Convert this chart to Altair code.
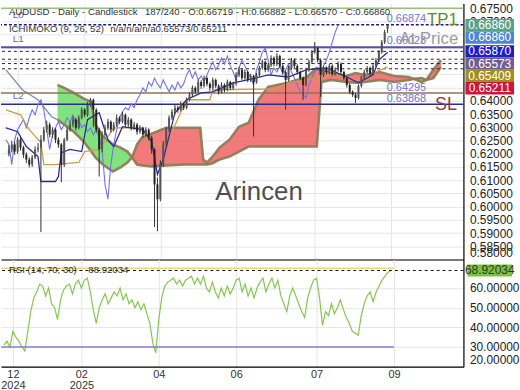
import altair as alt
import pandas as pd

PIP = 10000.0

# ---------------- data (prices in pips) ----------------
closes = [6216,6235,6208,6253,6223,6197,6178,6159,6186,6216,
          6223,6253,6291,6310,6272,6291,6253,6235,6159,6253,
          6291,6310,6329,6298,6336,6366,6347,6385,6404,6366,
          6291,6216,6272,6298,6321,6291,6310,6336,6321,6347,
          6310,6329,6298,6310,6283,6298,6272,6291,6261,6216,
          6084,6028,6159,6235,6291,6336,6359,6374,6366,6389,
          6374,6404,6423,6449,6434,6471,6456,6486,6464,6449,
          6479,6456,6434,6460,6441,6471,6449,6464,6498,6517,
          6486,6509,6479,6494,6471,6498,6524,6547,6517,6535,
          6562,6539,6569,6532,6509,6479,6524,6554,6532,6509,
          6486,6460,6517,6547,6584,6599,6554,6498,6524,6509,
          6532,6502,6517,6539,6509,6486,6460,6434,6423,6411,
          6456,6486,6509,6524,6502,6532,6554,6584,6622,6659,
          6686]
highs = [6232,6248,6244,6262,6266,6230,6205,6186,6195,6228,
         6240,6270,6302,6325,6318,6300,6297,6262,6240,6260,
         6300,6322,6340,6336,6345,6375,6372,6395,6411,6408,
         6372,6298,6285,6310,6332,6326,6320,6348,6342,6358,
         6352,6338,6334,6320,6316,6308,6302,6300,6296,6268,
         6222,6110,6175,6248,6300,6345,6368,6385,6382,6398,
         6394,6412,6432,6458,6455,6480,6478,6495,6492,6470,
         6488,6484,6462,6470,6466,6480,6476,6472,6508,6528,
         6522,6518,6514,6502,6498,6506,6532,6556,6552,6544,
         6572,6568,6580,6574,6538,6515,6532,6562,6560,6538,
         6514,6492,6525,6555,6592,6622,6604,6560,6532,6530,
         6540,6538,6526,6548,6545,6514,6492,6466,6440,6430,
         6462,6494,6518,6532,6530,6540,6562,6592,6630,6668,
         6688]
lows = [6190,6205,6196,6200,6212,6184,6165,6148,6150,6180,
        6205,5904,6245,6280,6262,6260,6240,6222,6092,6150,
        6248,6284,6300,6288,6292,6330,6338,6340,6378,6300,
        6280,6114,6205,6265,6290,6280,6284,6302,6312,6315,
        6300,6302,6288,6290,6272,6276,6262,6265,6250,6200,
        5923,5907,6020,6150,6228,6282,6328,6350,6355,6360,
        6365,6368,6398,6415,6425,6428,6446,6450,6455,6438,
        6442,6448,6424,6428,6432,6436,6440,6442,6458,6490,
        6478,6480,6470,6472,6265,6465,6492,6518,6508,6510,
        6528,6530,6532,6524,6500,6366,6474,6518,6524,6500,
        6478,6404,6455,6510,6540,6578,6545,6415,6490,6500,
        6502,6494,6496,6510,6500,6478,6450,6425,6415,6392,
        6405,6450,6480,6502,6495,6498,6526,6548,6578,6615,
        6657]
first_open = 6200
last_open = 6672

rsi_vals = [31,33,30,38,35,33,30,28,38,48,
            55,58,62,61,56,60,52,50,44,54,
            59,61,62,57,62,64,60,64,65,58,
            49,42,50,54,57,52,55,58,56,60,
            54,57,52,54,50,53,49,52,47,42,
            32,27,44,55,61,63,64,65,62,64,
            61,64,65,66,62,65,62,66,60,58,
            63,58,55,60,56,61,57,60,64,65,
            58,62,56,60,55,60,63,65,58,62,
            65,60,64,56,52,48,56,60,56,52,
            48,45,55,60,64,65,55,41,48,46,
            52,47,50,54,49,45,42,38,37,36,
            46,52,56,58,53,58,61,64,66,68,
            69]
rsi_now = 68.92034

CHIKOU_SHIFT = 17

tenkan_x = [-1,3,6,10,11,16,17,18,21,25,27,31,34,36,39,46,49,51,53,57,
            61,66,70,77,82,89,96,102,109,116,120,125,127,130]
tenkan_v = [6298,6283,6227,6189,6095,6095,6114,6204,6216,6208,6329,6355,6253,6227,6302,6291,6246,6122,6178,6355,
            6404,6430,6434,6468,6479,6498,6490,6517,6524,6490,6468,6498,6554,6584]
kijun_x = [-1,4,7,11,12,16,24,26,31,36,46,48,54,61,69,70,91,97,106,112,119,124,126,130]
kijun_v = [6366,6347,6291,6242,6159,6159,6167,6208,6216,6298,6298,6235,6235,6404,6404,6441,6445,6471,6486,6498,6479,6486,6509,6528]
spanb_pre_x = [-1, 4.7, 10, 14.7, 16.7]
spanb_pre_v = [6517, 6441, 6404, 6340, 6329]

cloud_x = [16.7,19,22.3,25.7,28.3,29.7,32.3,35.7,38.3,40.7,42.3,
           44,45.7,49,54,60.7,65.7,66.7,68,69.7,72.3,75.7,79,82.3,85.7,89,95.7,102.3,105.7,107.3,110.7,
           115.7,119,122.3,127.3,132.3,137.3,139,
           141.7,143.3,145.7,148.3]
cloud_a = [6460,6449,6430,6408,6396,6310,6265,6235,6223,6208,6186,
           6159,6156,6152,6156,6159,6159,6159,6159,6163,6178,6189,6208,6227,6227,6227,6227,6227,6227,6471,6479,
           6471,6468,6471,6479,6471,6479,6483,
           6486,6479,6486,6528]
cloud_b = [6329,6310,6283,6246,6208,6186,6159,6133,6148,6167,6186,
           6235,6261,6276,6298,6298,6298,6178,6167,6186,6223,6253,6302,6317,6404,6453,6468,6490,6524,6517,6505,
           6494,6505,6498,6509,6494,6490,6483,
           6471,6479,6517,6554]

tick_pos = [3, 26, 52, 78, 105, 131]
tick_lab = [["12", "2024"], ["02", "2025"], "04", "06", "07", "09"]

price_ticks = [0.58, 0.585, 0.59, 0.595, 0.60, 0.605, 0.61, 0.615, 0.62, 0.625,
               0.63, 0.635, 0.64, 0.645, 0.65, 0.655, 0.66, 0.665, 0.67, 0.675]
rsi_ticks = [20, 30, 40, 50, 60]

# horizontal levels: price, colour, dash, width
levels = [
    (0.6750, "#9cbb86", [1, 0], 1.5),
    (0.66874, "#1c1c72", [3, 2], 1.6),
    (0.66023, "#5a4fa8", [1, 0], 2.0),
    (0.65870, "#222222", [3, 3], 1.0),
    (0.65573, "#222222", [3, 3], 1.0),
    (0.65409, "#222222", [3, 3], 1.0),
    (0.65211, "#222222", [3, 3], 1.0),
    (0.64295, "#8d7452", [1, 0], 1.6),
    (0.63868, "#2b2b88", [1, 0], 1.6),
]

box_vals = [0.66860, 0.66860, 0.65870, 0.65573, 0.65409, 0.65211]
box_cols = ["#58a385", "#4a88d6", "#1e1ec8", "#6e5e8e", "#a08f1c", "#d0153d"]

# ---------------- geometry ----------------
W, H1, H2 = 466, 258, 108
XDOM = [-1, 154.33]
YDOM = [0.58, 0.6768]
RDOM = [20, 74.5]
PX_PER = H1 / (YDOM[1] - YDOM[0])
FONT = "Liberation Sans"

xs = alt.Scale(domain=XDOM, nice=False, zero=False)
ys = alt.Scale(domain=YDOM, nice=False, zero=False)
rs = alt.Scale(domain=RDOM, nice=False, zero=False)

# ---------------- frames ----------------
n = len(closes)
opens = [first_open] + closes[:-1]
opens[-1] = last_open
cdf = pd.DataFrame({
    "i": list(range(n)),
    "o": [v / PIP for v in opens],
    "h": [v / PIP for v in highs],
    "l": [v / PIP for v in lows],
    "c": [v / PIP for v in closes],
})
cdf["bcol"] = ["#555555" if c >= o else "#222222" for o, c in zip(cdf["o"], cdf["c"])]

chik = pd.DataFrame({"x": [i - CHIKOU_SHIFT for i in range(CHIKOU_SHIFT - 1, n)],
                     "v": [closes[i] / PIP for i in range(CHIKOU_SHIFT - 1, n)]})
ten = pd.DataFrame({"x": tenkan_x, "v": [v / PIP for v in tenkan_v]})
kij = pd.DataFrame({"x": kijun_x, "v": [v / PIP for v in kijun_v]})
sbp = pd.DataFrame({"x": spanb_pre_x, "v": [v / PIP for v in spanb_pre_v]})

CLOUD_UP, CLOUD_DOWN = "#74e070", "#f26c6c"
rows = []
seg = 0
cur = []


def flush(points, seg_id):
    col = CLOUD_UP if any(p[1] > p[2] for p in points) else CLOUD_DOWN
    return [{"x": p[0], "a": p[1] / PIP, "b": p[2] / PIP, "seg": seg_id, "col": col} for p in points]


for k, (x, a, b) in enumerate(zip(cloud_x, cloud_a, cloud_b)):
    cur.append((x, a, b))
    if a == b and len(cur) > 1 and k < len(cloud_x) - 1:
        rows += flush(cur, seg)
        seg += 1
        cur = [(x, a, b)]
if cur:
    rows += flush(cur, seg)
cloud = pd.DataFrame(rows)
cloud_line = pd.DataFrame({"x": cloud_x, "a": [v / PIP for v in cloud_a], "b": [v / PIP for v in cloud_b]})

gap = 12.4 / PX_PER
slots = []
for v in box_vals:
    s = v if not slots else min(v, slots[-1] - gap)
    slots.append(s)
boxes = pd.DataFrame({"v": [f"{b:.5f}" for b in box_vals], "s": slots,
                      "y0": [s - 6.2 / PX_PER for s in slots], "y1": [s + 6.2 / PX_PER for s in slots],
                      "col": box_cols})

# ---------------- axes (same object on every layer) ----------------
XM = alt.Axis(values=tick_pos, labels=False, ticks=False, domain=True, domainColor="#000",
              domainWidth=1.2, grid=True, gridColor="#e6e6e6", title=None)
# labels that sit under the coloured value boxes are left blank (grid lines stay)
YM = alt.Axis(orient="right", values=price_ticks, format=".5f", labelFontSize=12, labelColor="#222",
              labelExpr="(datum.value > 0.642 && datum.value < 0.668) ? '' : datum.label",
              labelFont=FONT, labelFlush=True, labelOverlap=False, ticks=False, labelPadding=6,
              domain=True, domainColor="#000", domainWidth=1.2, grid=True, gridColor="#e6e6e6",
              title=None)


def lab(v):
    if isinstance(v, list):
        return "[" + ",".join(f"'{s}'" for s in v) + "]"
    return f"'{v}'"


expr = "''"
for p, l in reversed(list(zip(tick_pos, tick_lab))):
    expr = f"datum.value == {p} ? {lab(l)} : ({expr})"

XR = alt.Axis(values=tick_pos, labelExpr=expr, labelFontSize=11, labelColor="#333", labelFont=FONT,
              ticks=False, labelPadding=2, labelLineHeight=10.5, domain=True, domainColor="#000",
              domainWidth=1.2, grid=True, gridColor="#e6e6e6", title=None, labelOverlap=False)
YR = alt.Axis(orient="right", values=rsi_ticks, format=".5f", labelFontSize=12, labelColor="#222",
              labelFont=FONT, labelFlush=True, labelOverlap=False, ticks=False, labelPadding=6,
              domain=True, domainColor="#000", domainWidth=1.2, grid=True, gridColor="#e6e6e6",
              title=None)


def mx(f):
    return alt.X(f, scale=xs, axis=XM)


def my(f):
    return alt.Y(f, scale=ys, axis=YM)


# ---------------- main panel ----------------
cloud_area = alt.Chart(cloud).mark_area(opacity=0.9, interpolate="linear").encode(
    x=mx("x:Q"), y=my("a:Q"), y2="b:Q",
    color=alt.Color("col:N", scale=None, legend=None), detail="seg:N")
span_a = alt.Chart(cloud_line).mark_line(color="#8e7c58", strokeWidth=2.6, opacity=0.95).encode(
    x=mx("x:Q"), y=my("a:Q"))
span_b = alt.Chart(cloud_line).mark_line(color="#8e7c58", strokeWidth=2.6, opacity=0.95).encode(
    x=mx("x:Q"), y=my("b:Q"))
spanb_pre = alt.Chart(sbp).mark_line(color="#7b88a6", strokeWidth=1.2).encode(x=mx("x:Q"), y=my("v:Q"))

level_layers = []
for p, col, dash, w in levels:
    level_layers.append(
        alt.Chart(pd.DataFrame({"p": [p]})).mark_rule(color=col, strokeDash=dash, strokeWidth=w).encode(
            y=my("p:Q")))

chikou = alt.Chart(chik).mark_line(color="#7373e2", strokeWidth=1.1, clip=True).encode(x=mx("x:Q"), y=my("v:Q"))
kijun = alt.Chart(kij).mark_line(color="#c9a04c", strokeWidth=1.3, clip=True).encode(x=mx("x:Q"), y=my("v:Q"))
tenkan = alt.Chart(ten).mark_line(color="#2a2a9c", strokeWidth=1.3, clip=True).encode(x=mx("x:Q"), y=my("v:Q"))

wicks = alt.Chart(cdf).mark_rule(color="#303030", strokeWidth=1).encode(x=mx("i:Q"), y=my("l:Q"), y2="h:Q")
bodies = alt.Chart(cdf).mark_bar(size=2).encode(
    x=mx("i:Q"), y=my("o:Q"), y2="c:Q", color=alt.Color("bcol:N", scale=None, legend=None))

ann = [  # text, bar position, price, dy, colour, size
    ("0.66874", 129.7, 0.66874, -6, "#7373d8", 11),
    ("TP1", 143.5, 0.66874, -5, "#5e8c32", 17),
    ("0.66023", 129.7, 0.66023, -6, "#7373d8", 11),
    ("At Price", 134.0, 0.66023, -8, "#9c9c9c", 17),
    ("0.64295", 129.7, 0.64295, -5, "#7373d8", 11),
    ("0.63868", 129.7, 0.63868, -5, "#7373d8", 11),
    ("SL", 146.3, 0.63868, 1, "#963a3a", 18),
    ("L0", 1.3, 0.6750, 7, "#6a6ab2", 10),
    ("L1", 1.3, 0.66023, -8, "#6a6ab2", 10),
    ("L2", 1.3, 0.64295, 3, "#6a6ab2", 10),
]
ann_layers = []
for t, bx, p, dy, col, sz in ann:
    ann_layers.append(
        alt.Chart(pd.DataFrame({"t": [t], "x": [bx], "p": [p]})).mark_text(
            align="left", baseline="middle", dy=dy, color=col, fontSize=sz, font=FONT).encode(
            x=mx("x:Q"), y=my("p:Q"), text="t:N"))

header_txt = [
    ("AUDUSD - Daily - Candlestick", 8, 9, 9.7, "#333333"),
    ("187/240 - O:0.66719 - H:0.66882 - L:0.66570 - C:0.66860", 145, 9, 9.7, "#333333"),
    ("ICHIMOKO (9, 26, 52)", 8, 26, 9.7, "#333333"),
    ("n/a/n/a/n/a0.65573/0.65211", 110, 26, 9.7, "#333333"),
]
head_layers = []
for t, x, y, sz, col in header_txt:
    head_layers.append(
        alt.Chart(pd.DataFrame({"t": [t]})).mark_text(
            align="left", baseline="middle", fontSize=sz, color=col, font=FONT).encode(
            x=alt.value(x), y=alt.value(y), text="t:N"))
watermark = alt.Chart(pd.DataFrame({"t": ["Arincen"]})).mark_text(
    align="center", baseline="middle", fontSize=26, color="#4f4f4f", font=FONT).encode(
    x=alt.value(260), y=alt.value(190), text="t:N")

box_rect = alt.Chart(boxes).mark_rect().encode(
    x=alt.value(468), x2=alt.value(517), y=my("y0:Q"), y2="y1:Q",
    color=alt.Color("col:N", scale=None, legend=None))
box_text = alt.Chart(boxes).mark_text(align="center", baseline="middle", fontSize=12, color="#ffffff",
                                      font=FONT).encode(x=alt.value(492.5), y=my("s:Q"), text="v:N")

main = alt.layer(
    cloud_area, span_a, span_b, spanb_pre, *level_layers, chikou, kijun, tenkan, wicks, bodies,
    *ann_layers, *head_layers, watermark, box_rect, box_text
).properties(width=W, height=H1)


# ---------------- RSI panel ----------------
def rx(f):
    return alt.X(f, scale=xs, axis=XR)


def ry(f):
    return alt.Y(f, scale=rs, axis=YR)


rdf = pd.DataFrame({"i": list(range(len(rsi_vals))), "r": rsi_vals})
rsi_line = alt.Chart(rdf).mark_line(color="#86c64e", strokeWidth=1.2).encode(x=rx("i:Q"), y=ry("r:Q"))
band = pd.DataFrame({"x0": [-1, -1], "x1": [131, 131], "y": [30, 70], "c": ["#8a7ed8", "#e6da7a"]})
rsi_bands = alt.Chart(band).mark_rule(strokeWidth=1.5).encode(
    x=rx("x0:Q"), x2="x1:Q", y=ry("y:Q"), color=alt.Color("c:N", scale=None, legend=None))
rsi_cur = alt.Chart(pd.DataFrame({"y": [rsi_now]})).mark_rule(color="#111", strokeDash=[3, 3]).encode(
    y=ry("y:Q"))
rsi_box = alt.Chart(pd.DataFrame({"y0": [rsi_now - 3.1], "y1": [rsi_now + 3.1]})).mark_rect(
    color="#7cc144").encode(x=alt.value(470), x2=alt.value(515), y=ry("y0:Q"), y2="y1:Q")
rsi_box_t = alt.Chart(pd.DataFrame({"t": [f"{rsi_now:.5f}"], "y": [rsi_now]})).mark_text(
    align="center", baseline="middle", fontSize=12, color="#2a3a1a", font=FONT).encode(
    x=alt.value(492.5), y=ry("y:Q"), text="t:N")
rsi_head = alt.Chart(pd.DataFrame({"t": ["RSI (14; 70; 30)"]})).mark_text(
    align="left", baseline="middle", fontSize=9.7, color="#333", font=FONT).encode(
    x=alt.value(8), y=alt.value(11), text="t:N")
rsi_head2 = alt.Chart(pd.DataFrame({"t": ["88.92034"]})).mark_text(
    align="left", baseline="middle", fontSize=9.7, color="#333", font=FONT).encode(
    x=alt.value(88), y=alt.value(11), text="t:N")

rsi = alt.layer(rsi_line, rsi_bands, rsi_cur, rsi_box, rsi_box_t, rsi_head, rsi_head2).properties(
    width=W, height=H2)

chart = alt.vconcat(main, rsi, spacing=0).properties(
    padding={"left": 0, "top": 0, "right": 0, "bottom": 0},
    background="#ffffff",
).configure_view(stroke=None).configure_concat(spacing=0)

chart.save("out.html", embed_options={"renderer": "svg", "actions": False})
